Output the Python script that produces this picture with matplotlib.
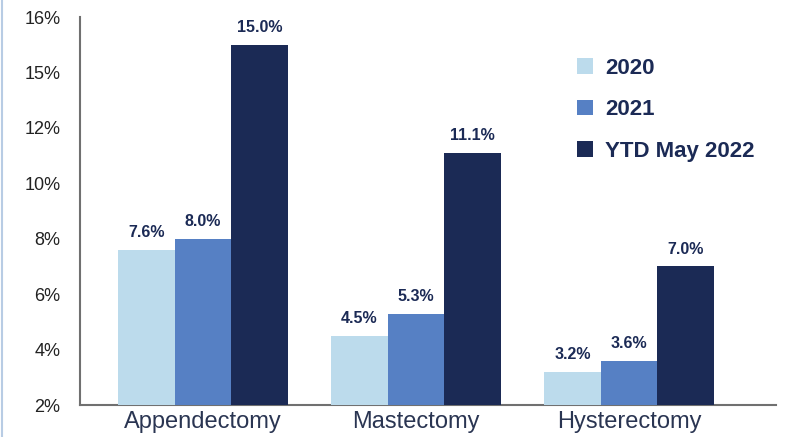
import matplotlib.pyplot as plt
from matplotlib.patches import Patch
from matplotlib.lines import Line2D
import numpy as np

categories = ['Appendectomy', 'Mastectomy', 'Hysterectomy']
series = ['2020', '2021', 'YTD May 2022']
vals_2020 = [7.6, 4.5, 3.2]
vals_2021 = [8.0, 5.3, 3.6]
vals_2022 = [15.0, 11.1, 7.0]
tick_vals = [2, 4, 6, 8, 10, 12, 14, 16]
tick_labels = ['2%', '4%', '6%', '8%', '10%', '12%', '15%', '16%']

colours = ['#bcdbec', '#5680c4', '#1b2a55']
navy = '#1b2a55'
plt.rcParams['font.family'] = ['Liberation Sans', 'DejaVu Sans']

### Create figure
fig = plt.figure(figsize=(7.89, 4.37), dpi=100)
ax = fig.add_axes([80 / 789, 32 / 437, 696 / 789, 388 / 437])

x = np.arange(len(categories))
w = 0.265
for i, (vals, col) in enumerate(zip([vals_2020, vals_2021, vals_2022], colours)):
    bars = ax.bar(x + (i - 1) * w, vals, width=w, color=col, zorder=3)
    for b, v in zip(bars, vals):
        ax.annotate(f'{v:.1f}%', (b.get_x() + b.get_width() / 2, v),
                    xytext=(0, 7), textcoords='offset points',
                    ha='center', va='bottom', fontsize=11.5, fontweight='bold',
                    color=navy)

ax.set_ylim(2, 16)
ax.set_xlim(-0.577, 2.69)
ax.set_yticks(tick_vals)
ax.set_yticklabels(tick_labels, fontsize=13, color='#222222')
ax.set_xticks(x)
ax.set_xticklabels(categories, fontsize=17, color='#2a3552')
ax.tick_params(axis='both', length=0)
ax.tick_params(axis='y', pad=14)
ax.tick_params(axis='x', pad=4)

for s in ['top', 'right']:
    ax.spines[s].set_visible(False)
for s in ['left', 'bottom']:
    ax.spines[s].set_color('#707070')
    ax.spines[s].set_linewidth(1.5)

### Legend
handles = [Patch(facecolor=c, edgecolor='none') for c in colours]
leg = ax.legend(handles, series, loc='upper left', frameon=False,
                bbox_to_anchor=(557 / 789, 399 / 437), bbox_transform=fig.transFigure,
                handlelength=0.7, handleheight=0.7, handletextpad=0.55,
                labelspacing=0.92, prop={'size': 16, 'weight': 'bold'})
for t in leg.get_texts():
    t.set_color(navy)

### Left border line
fig.add_artist(Line2D([2 / 789, 2 / 789], [0, 1], transform=fig.transFigure,
                      color='#b8cce4', linewidth=1.5))

fig.savefig('out.png', dpi=100)
